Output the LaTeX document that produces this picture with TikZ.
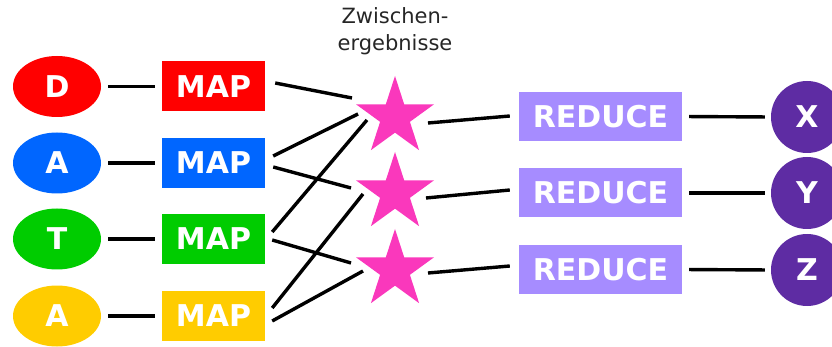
\documentclass[tikz,border=0pt]{standalone}
\usepackage{fontspec}
\setmainfont{DejaVu Sans}
\usetikzlibrary{shapes.geometric,calc}
\definecolor{cred}{HTML}{FF0000}
\definecolor{cblue}{HTML}{0066FF}
\definecolor{cgreen}{HTML}{00CC00}
\definecolor{cyellow}{HTML}{FFCC00}
\definecolor{cstar}{HTML}{FA38BC}
\definecolor{creduce}{HTML}{A68CFF}
\definecolor{cout}{HTML}{5E2CA3}
\tikzset{
  lbl/.style={text=white, font=\fontsize{30}{36}\selectfont\bfseries, inner sep=0pt},
  datum/.style={lbl, ellipse, minimum width=88pt, minimum height=61pt, fill=#1},
  mapbox/.style={lbl, rectangle, minimum width=103pt, minimum height=50pt, fill=#1},
  mid/.style={star, star points=5, star point ratio=2.618, minimum size=82pt, inner sep=0pt, fill=cstar, draw=none},
  redbox/.style={lbl, rectangle, minimum width=163pt, minimum height=49pt, fill=creduce},
  result/.style={lbl, circle, minimum size=72pt, fill=cout},
  conn/.style={line width=3.4pt, black},
}
\begin{document}
\begin{tikzpicture}[x=1pt, y=-1pt]
\useasboundingbox (0,0) rectangle (832,347);
% inputs
\node[datum=cred]    (e1) at (57,86.5)  {D};
\node[datum=cblue]   (e2) at (57,163) {A};
\node[datum=cgreen]  (e3) at (57,239) {T};
\node[datum=cyellow] (e4) at (57,316) {A};
% map
\node[mapbox=cred]    (m1) at (213.5,86.5)  {MAP};
\node[mapbox=cblue]   (m2) at (213.5,163)   {MAP};
\node[mapbox=cgreen]  (m3) at (213.5,239)   {MAP};
\node[mapbox=cyellow] (m4) at (213.5,316)   {MAP};
% stars
\node[mid] (s1) at (395,117) {};
\node[mid] (s2) at (395,193) {};
\node[mid] (s3) at (395,270) {};
\node[font=\fontsize{21}{27}\selectfont, align=center, anchor=base, text=black!85] (t) at (395,51) {Zwischen-\\ergebnisse};
% reduce
\node[redbox] (r1) at (600.5,116.5) {REDUCE};
\node[redbox] (r2) at (600.5,193)   {REDUCE};
\node[redbox] (r3) at (600.5,269.5) {REDUCE};
% results
\node[result] (o1) at (807,117) {X};
\node[result] (o2) at (807,193) {Y};
\node[result] (o3) at (807,270) {Z};
% connectors
\foreach \i in {1,2,3,4} {
  \draw[conn, shorten <=7pt, shorten >=7pt] (e\i.east) -- (m\i.west);
}
\foreach \i in {1,2,3} {
  \draw[conn, shorten <=7pt, shorten >=6pt] (r\i.east) -- (o\i.west);
}
\draw[conn] ($(m1.east)+(10,-3.5)$) -- ($(s1.center)+(-43,-19)$);
\draw[conn] ($(m2.east)+(8,-7)$)    -- ($(s1.center)+(-37,-3)$);
\draw[conn] ($(m2.east)+(8,4)$)     -- ($(s2.center)+(-44,-5)$);
\draw[conn] ($(m3.east)+(7,-7)$)    -- ($(s1.center)+(-28,3)$);
\draw[conn] ($(m3.east)+(7,1)$)     -- ($(s3.center)+(-44,-7)$);
\draw[conn] ($(m4.east)+(7,-8)$)    -- ($(s2.center)+(-32,1)$);
\draw[conn] ($(m4.east)+(7,5)$)     -- ($(s3.center)+(-32,1)$);
\draw[conn] ($(s1.center)+(33,6)$)  -- ($(r1.west)+(-9,-0.5)$);
\draw[conn] ($(s2.center)+(31,5)$)  -- ($(r2.west)+(-9,-3)$);
\draw[conn] ($(s3.center)+(33,3)$)  -- ($(r3.west)+(-9,-3.5)$);
\end{tikzpicture}
\end{document}
